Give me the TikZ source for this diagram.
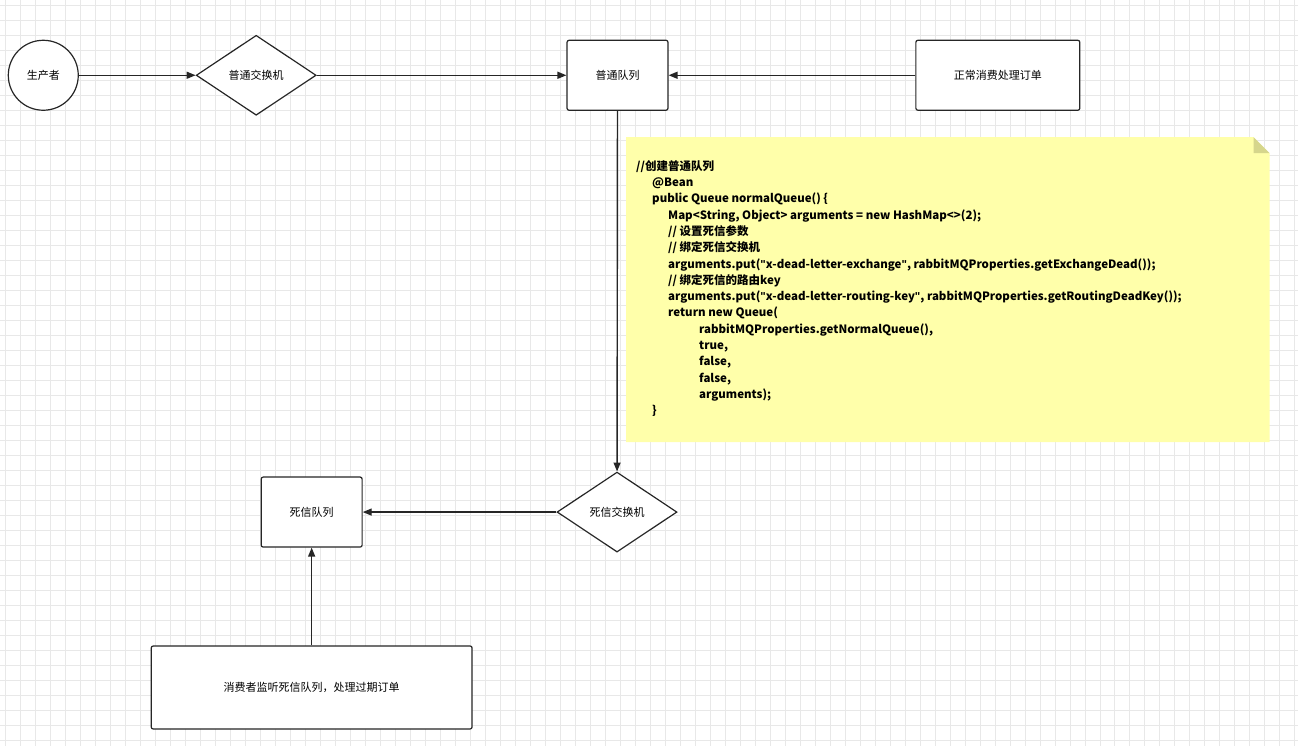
\documentclass[tikz,border=0pt]{standalone}
\usepackage{fontspec}
\setmainfont{Noto Sans CJK SC}
\newfontfamily\latinfont{Liberation Sans}
\usetikzlibrary{shapes.geometric,arrows.meta}
\definecolor{notefill}{RGB}{255,255,170}
\definecolor{notefold}{RGB}{214,214,140}
\newcommand{\qt}{{\latinfont\bfseries\char34}}

\begin{document}
\begin{tikzpicture}[x=1pt, y=-1pt, font=\fontsize{11}{13}\selectfont,
    box/.style={draw=black!85, line width=1.2pt, rectangle, rounded corners=2pt, fill=white, minimum height=70pt},
    gate/.style={draw=black!85, line width=1.2pt, diamond, aspect=1.5, fill=white, minimum width=120pt, minimum height=80pt, inner sep=0pt},
    flow/.style={draw=black!85, line width=1.4pt, -{Triangle[length=9pt, width=7pt]}}]
    % background grid
    \fill[white] (0,0) rectangle (1298,746);
    \foreach \gx in {5,20,...,1298} \draw[black!9, line width=0.6pt] (\gx,0) -- (\gx,746);
    \foreach \gy in {5,20,...,746} \draw[black!9, line width=0.6pt] (0,\gy) -- (1298,\gy);
    \useasboundingbox (0,0) rectangle (1298,746);
    
    \node (producer) [draw=black!85, line width=1.2pt, circle, minimum size=70pt, fill=white] at (43,75) {生产者};
    \node (normalX) [gate] at (256,75) {普通交换机};
    \node (normalQ) [box, minimum width=101pt] at (617.5,75) {普通队列};
    \node (consumer) [box, minimum width=164pt] at (998,75) {正常消费处理订单};
    \node (deadX) [gate] at (617,512) {死信交换机};
    \node (deadQ) [box, minimum width=101pt] at (311.5,512) {死信队列};
    \node (listener) [box, minimum width=321pt, minimum height=83pt] at (311.5,687.5) {消费者监听死信队列，处理过期订单};
    
    % note
    \fill[notefill] (626,137) -- (1254,137) -- (1270,153) -- (1270,442) -- (626,442) -- cycle;
    \fill[notefold] (1254,137) -- (1270,153) -- (1254,153) -- cycle;
    \node (note) [anchor=north west, align=left, inner sep=0pt, font=\fontsize{11.5}{16.3}\selectfont\bfseries] at (636,160) {%
//创建普通队列\\
\hspace*{16pt}@Bean\\
\hspace*{16pt}public Queue normalQueue() \{\\
\hspace*{32pt}Map<String, Object> arguments = new HashMap<>(2);\\
\hspace*{32pt}// 设置死信参数\\
\hspace*{32pt}// 绑定死信交换机\\
\hspace*{32pt}arguments.put(\qt x-dead-letter-exchange\qt, rabbitMQProperties.getExchangeDead());\\
\hspace*{32pt}// 绑定死信的路由key\\
\hspace*{32pt}arguments.put(\qt x-dead-letter-routing-key\qt, rabbitMQProperties.getRoutingDeadKey());\\
\hspace*{32pt}return new Queue(\\
\hspace*{63pt}rabbitMQProperties.getNormalQueue(),\\
\hspace*{63pt}true,\\
\hspace*{63pt}false,\\
\hspace*{63pt}false,\\
\hspace*{63pt}arguments);\\
\hspace*{16pt}\}};
    
    \draw[flow] (producer) -- (normalX);
    \draw[flow] (normalX) -- (normalQ);
    \draw[flow] (consumer) -- (normalQ);
    \draw[flow] (normalQ) -- (deadX);
    \draw[flow] (deadX) -- (deadQ);
    \draw[flow] (listener) -- (deadQ);
\end{tikzpicture}
\end{document}
